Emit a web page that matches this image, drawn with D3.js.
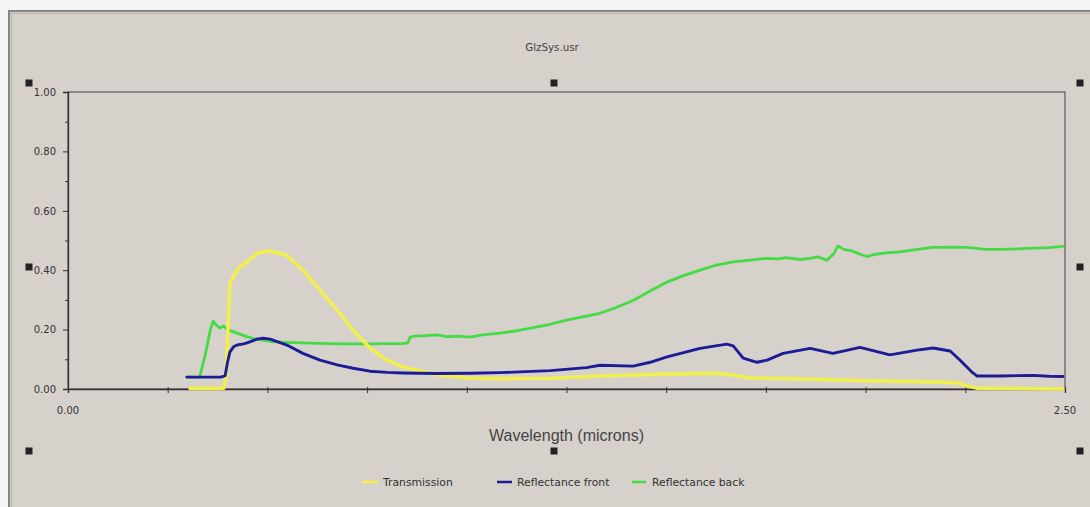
<!DOCTYPE html>
<html>
<head>
<meta charset="utf-8">
<script src="https://cdn.jsdelivr.net/npm/d3@7"></script>
<style>
  html, body { margin: 0; padding: 0; background: #f4f4f4; }
  svg { display: block; }
</style>
</head>
<body>
<svg id="chart" width="1090" height="507"></svg>
<script>
// ---------- data ----------
const chartTitle = "GlzSys.usr";
const xAxisTitle = "Wavelength (microns)";
const yTicks = [0, 0.2, 0.4, 0.6, 0.8, 1.0];
const xTickLabels = ["0.00", "2.50"];
const seriesNames = ["Transmission", "Reflectance front", "Reflectance back"];

const transWl  = [0.306,0.390,0.397,0.401,0.406,0.426,0.451,0.474,0.507,0.549,0.589,0.632,0.675,0.715,0.757,0.800,0.840,0.925,1.008,1.083,1.209,1.334,1.502,1.627,1.668,1.710,1.836,2.004,2.169,2.237,2.254,2.279,2.495];
const transVal = [0.002,0.002,0.05,0.20,0.356,0.405,0.43,0.457,0.465,0.45,0.40,0.333,0.266,0.198,0.138,0.097,0.074,0.047,0.037,0.035,0.036,0.044,0.050,0.053,0.047,0.037,0.034,0.028,0.024,0.020,0.010,0.003,0.0];

const frontWl  = [0.298,0.384,0.394,0.400,0.406,0.415,0.424,0.440,0.449,0.464,0.474,0.489,0.507,0.549,0.589,0.632,0.675,0.715,0.757,0.800,0.840,0.925,1.008,1.083,1.209,1.300,1.334,1.417,1.460,1.502,1.585,1.652,1.668,1.693,1.728,1.753,1.793,1.861,1.918,1.986,2.061,2.129,2.169,2.212,2.237,2.269,2.279,2.337,2.420,2.460,2.495];
const frontVal = [0.04,0.04,0.045,0.09,0.125,0.142,0.148,0.152,0.155,0.163,0.168,0.171,0.168,0.148,0.120,0.097,0.081,0.070,0.060,0.056,0.054,0.052,0.053,0.055,0.062,0.072,0.080,0.077,0.090,0.108,0.137,0.151,0.145,0.104,0.090,0.097,0.120,0.137,0.120,0.140,0.115,0.131,0.138,0.128,0.097,0.054,0.044,0.044,0.046,0.043,0.042];

const backWl  = [0.298,0.330,0.345,0.357,0.364,0.372,0.381,0.390,0.400,0.424,0.445,0.464,0.507,0.550,0.589,0.650,0.700,0.757,0.800,0.840,0.852,0.858,0.870,0.900,0.925,0.950,0.980,1.008,1.040,1.083,1.120,1.160,1.209,1.250,1.300,1.334,1.370,1.417,1.460,1.502,1.540,1.585,1.620,1.668,1.700,1.753,1.780,1.800,1.836,1.860,1.880,1.903,1.920,1.931,1.945,1.961,1.975,1.990,2.004,2.019,2.050,2.086,2.130,2.169,2.210,2.254,2.300,2.337,2.380,2.420,2.460,2.495];
const backVal = [0.04,0.04,0.12,0.20,0.228,0.215,0.205,0.212,0.200,0.188,0.178,0.170,0.160,0.157,0.155,0.153,0.152,0.152,0.153,0.153,0.155,0.175,0.178,0.180,0.182,0.176,0.178,0.175,0.182,0.188,0.195,0.205,0.218,0.232,0.245,0.255,0.272,0.298,0.330,0.360,0.380,0.400,0.415,0.428,0.432,0.440,0.438,0.442,0.436,0.440,0.445,0.434,0.455,0.482,0.470,0.467,0.460,0.452,0.446,0.452,0.458,0.462,0.470,0.477,0.478,0.477,0.470,0.470,0.472,0.474,0.476,0.480];

const seriesColors = ["#f0ef4e", "#1c1c96", "#45db45"];

// ---------- layout ----------
const svg = d3.select("#chart");
const W = 1090, H = 507;
const plot = { left: 68, right: 1065, top: 92, bottom: 389 };
const smallFont = "DejaVu Sans, Verdana, sans-serif";

// outer frame / panel
svg.append("rect").attr("x", 0).attr("y", 0).attr("width", W).attr("height", H).attr("fill", "#f4f4f4");
svg.append("rect").attr("x", 8).attr("y", 10).attr("width", W - 8).attr("height", H - 10).attr("fill", "#d7d1cc");
svg.append("line").attr("x1", 8).attr("x2", W).attr("y1", 11).attr("y2", 11).attr("stroke", "#858585").attr("stroke-width", 2);
svg.append("line").attr("x1", 9).attr("x2", 9).attr("y1", 10).attr("y2", H).attr("stroke", "#858585").attr("stroke-width", 2);
svg.append("line").attr("x1", 11).attr("x2", W).attr("y1", 13.5).attr("y2", 13.5).attr("stroke", "#b8b4b0").attr("stroke-width", 1);
svg.append("line").attr("x1", 11.5).attr("x2", 11.5).attr("y1", 13).attr("y2", H).attr("stroke", "#b8b4b0").attr("stroke-width", 1);

const x = d3.scaleLinear().domain([0, 2.5]).range([plot.left, plot.right]);
const y = d3.scaleLinear().domain([0, 1]).range([plot.bottom, plot.top]);

// title
svg.append("text").attr("x", 552).attr("y", 51).attr("text-anchor", "middle")
  .attr("font-family", smallFont).attr("font-size", 10.3).attr("fill", "#444")
  .text(chartTitle);

// plot frame (top / right)
svg.append("rect").attr("x", plot.left).attr("y", plot.top)
  .attr("width", plot.right - plot.left).attr("height", plot.bottom - plot.top)
  .attr("fill", "none").attr("stroke", "#5a5856").attr("stroke-width", 1.2);

// y axis
const yAxis = d3.axisLeft(y).tickValues(yTicks).tickFormat(d3.format(".2f")).tickSize(5).tickPadding(7);
const gy = svg.append("g").attr("transform", `translate(${plot.left},0)`).call(yAxis);
gy.select(".domain").attr("stroke", "#333").attr("stroke-width", 1.3);
gy.selectAll(".tick line").attr("stroke", "#333");
gy.selectAll(".tick text").attr("font-family", smallFont).attr("font-size", 10).attr("fill", "#333");
// minor y ticks
const yMinor = d3.axisLeft(y).tickValues(d3.range(0.1, 1, 0.2)).tickSize(3).tickFormat("");
const gym = svg.append("g").attr("transform", `translate(${plot.left},0)`).call(yMinor);
gym.select(".domain").remove();
gym.selectAll(".tick line").attr("stroke", "#333");

// x axis
const xAxis = d3.axisBottom(x).tickValues(d3.range(0, 2.51, 0.25)).tickSize(4).tickFormat("");
const gx = svg.append("g").attr("transform", `translate(0,${plot.bottom})`).call(xAxis);
gx.select(".domain").attr("stroke", "#333").attr("stroke-width", 1.3);
gx.selectAll(".tick line").attr("stroke", "#333").attr("y1", -2);
svg.append("text").attr("x", x(0)).attr("y", 414).attr("text-anchor", "middle")
  .attr("font-family", smallFont).attr("font-size", 10).attr("fill", "#333").text(xTickLabels[0]);
svg.append("text").attr("x", x(2.5)).attr("y", 414).attr("text-anchor", "middle")
  .attr("font-family", smallFont).attr("font-size", 10).attr("fill", "#333").text(xTickLabels[1]);

// x axis title
svg.append("text").attr("x", (plot.left + plot.right) / 2).attr("y", 441).attr("text-anchor", "middle")
  .attr("font-family", "Liberation Sans, Arial, sans-serif").attr("font-size", 16).attr("fill", "#444")
  .text(xAxisTitle);

// series
const line = d3.line().x(d => x(d[0])).y(d => y(d[1]));
const series = [
  { name: seriesNames[0], color: seriesColors[0], pts: d3.zip(transWl, transVal), w: 3.6 },
  { name: seriesNames[2], color: seriesColors[2], pts: d3.zip(backWl, backVal), w: 2.8 },
  { name: seriesNames[1], color: seriesColors[1], pts: d3.zip(frontWl, frontVal), w: 2.9 }
];
const drawOrder = [series[1], series[0], series[2]];
drawOrder.forEach(s => {
  svg.append("path").datum(s.pts).attr("d", line)
    .attr("fill", "none").attr("stroke", s.color).attr("stroke-width", s.w)
    .attr("stroke-linejoin", "round").attr("stroke-linecap", "round");
});

// legend
const legendItems = [
  { name: seriesNames[0], color: seriesColors[0], x1: 362, x2: 378, tx: 383 },
  { name: seriesNames[1], color: seriesColors[1], x1: 497, x2: 512, tx: 517 },
  { name: seriesNames[2], color: seriesColors[2], x1: 632, x2: 646, tx: 652 }
];
legendItems.forEach(l => {
  svg.append("line").attr("x1", l.x1).attr("x2", l.x2).attr("y1", 482).attr("y2", 482)
    .attr("stroke", l.color).attr("stroke-width", 2.5);
  svg.append("text").attr("x", l.tx).attr("y", 486)
    .attr("font-family", smallFont).attr("font-size", 10.8).attr("fill", "#333")
    .text(l.name);
});

// selection handles
const handles = [[29,83],[554,83],[1080,83],[29,267],[1080,267],[29,451],[554,451],[1080,451]];
svg.selectAll("rect.handle").data(handles).enter().append("rect").attr("class", "handle")
  .attr("x", d => d[0] - 3.5).attr("y", d => d[1] - 3.5).attr("width", 7).attr("height", 7)
  .attr("fill", "#222");
</script>
</body>
</html>
